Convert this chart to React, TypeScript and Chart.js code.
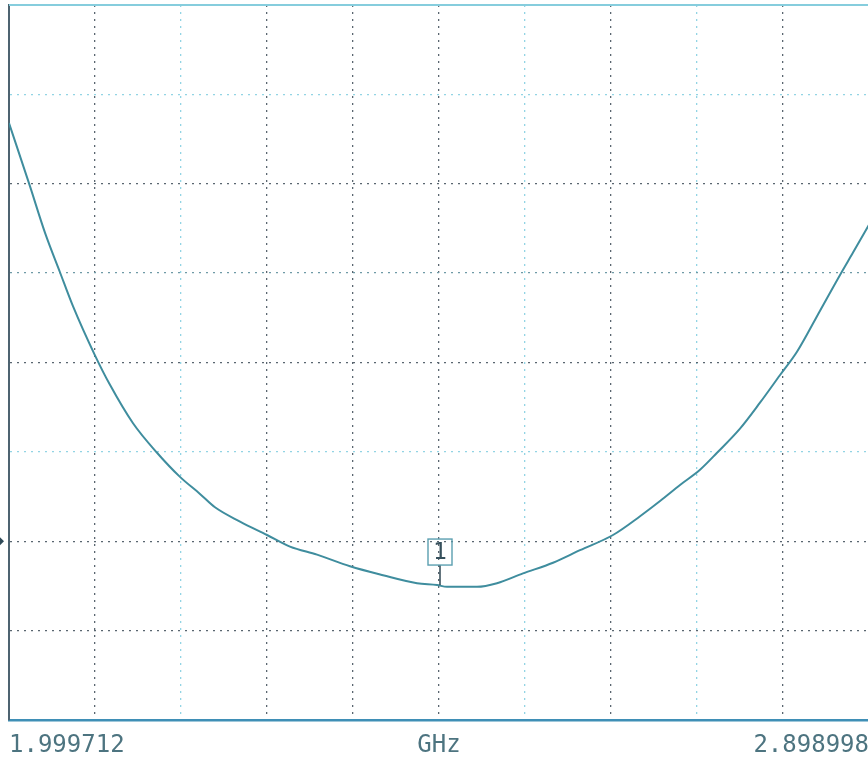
import React, { useEffect, useRef } from "react";
import { Chart, registerables } from "chart.js";

Chart.register(...registerables);

// Sweep limits (GHz)
const START_GHZ = 1.999712;
const STOP_GHZ = 2.898998;
const X_DIVISIONS = 10;
const Y_MIN = 0;
const Y_MAX = 8; // 8 vertical divisions

// Trace (frequency in GHz, level in divisions above the bottom graticule)
const FREQ_GHZ = [
  1.999712, 2.0217, 2.0374, 2.053, 2.0666, 2.0896, 2.1053, 2.1294, 2.1545, 2.1785,
  2.1994, 2.2151, 2.2413, 2.2695, 2.2935, 2.3218, 2.3563, 2.3908, 2.4264, 2.4473,
  2.4577, 2.4891, 2.51, 2.5372, 2.5686, 2.5968, 2.6313, 2.6596, 2.6805, 2.7014,
  2.7223, 2.7401, 2.7641, 2.785, 2.806, 2.8237, 2.8478, 2.8687, 2.8823, 2.898998,
];
const TRACE = [
  6.68, 5.97, 5.45, 5.01, 4.63, 4.08, 3.75, 3.32, 2.99, 2.72,
  2.53, 2.38, 2.22, 2.07, 1.94, 1.85, 1.72, 1.62, 1.53, 1.51,
  1.49, 1.49, 1.53, 1.64, 1.76, 1.9, 2.07, 2.28, 2.45, 2.63,
  2.8, 2.99, 3.26, 3.55, 3.86, 4.12, 4.58, 4.98, 5.23, 5.54,
];

// Axis annotation labels: start, unit, stop
const X_TICK_LABELS = ["1.999712", "GHz", "2.898998"];

// Marker 1
const MARKER_LABEL = "1";
const MARKER_FREQ = 2.4504;
const MARKER_VALUE = 1.51;

// Reference level position (divisions)
const REF_LEVEL = 2;

const DARK = "#5a6670";
const CYAN = "#92d4e4";
const X_GRID_COLORS = [DARK, DARK, CYAN, DARK, DARK, DARK, CYAN, DARK, CYAN, DARK, CYAN];
const Y_GRID_COLORS = [DARK, DARK, DARK, CYAN, DARK, "#6f9aa6", DARK, CYAN, CYAN];

const overlayPlugin = {
  id: "vnaOverlay",
  afterDatasetsDraw(chart: any) {
    const { ctx, chartArea, scales } = chart;
    const xs = scales.x;
    const ys = scales.y;
    ctx.save();
    // top frame line
    ctx.strokeStyle = "#86cddd";
    ctx.lineWidth = 2;
    ctx.beginPath();
    ctx.moveTo(chartArea.left, chartArea.top);
    ctx.lineTo(chartArea.right, chartArea.top);
    ctx.stroke();

    // reference level pointer on the left
    const ry = ys.getPixelForValue(REF_LEVEL);
    ctx.fillStyle = "#2f4a58";
    ctx.beginPath();
    ctx.moveTo(0, ry - 4);
    ctx.lineTo(4, ry);
    ctx.lineTo(0, ry + 4);
    ctx.closePath();
    ctx.fill();

    // marker 1
    const mx = xs.getPixelForValue(MARKER_FREQ);
    const my = ys.getPixelForValue(MARKER_VALUE);
    const boxW = 24;
    const boxH = 26;
    const boxBottom = my - 20;
    ctx.strokeStyle = "#2f4752";
    ctx.lineWidth = 1.5;
    ctx.beginPath();
    ctx.moveTo(mx, my);
    ctx.lineTo(mx, boxBottom);
    ctx.stroke();
    ctx.strokeStyle = "#5a9fb0";
    ctx.lineWidth = 1.4;
    ctx.strokeRect(mx - boxW / 2, boxBottom - boxH, boxW, boxH);
    ctx.fillStyle = "#36505c";
    ctx.font = "23px 'DejaVu Sans Mono'";
    ctx.textAlign = "center";
    ctx.textBaseline = "middle";
    ctx.fillText(MARKER_LABEL, mx, boxBottom - boxH / 2 + 1);
    ctx.restore();
  },
};

export default function App() {
  const ref = useRef<HTMLCanvasElement | null>(null);

  useEffect(() => {
    if (!ref.current) return;
    const points = FREQ_GHZ.map((f, i) => ({ x: f, y: TRACE[i] }));
    const chart = new Chart(ref.current, {
      type: "line",
      data: {
        datasets: [
          {
            label: "S11",
            data: points,
            borderColor: "#3f8d9e",
            borderWidth: 2,
            pointRadius: 0,
            cubicInterpolationMode: "monotone",
            fill: false,
          },
        ],
      },
      options: {
        animation: false,
        responsive: false,
        maintainAspectRatio: false,
        layout: { padding: { left: 9, right: 11, top: 5, bottom: 0 } },
        plugins: { legend: { display: false }, tooltip: { enabled: false } },
        scales: {
          x: {
            type: "linear",
            min: START_GHZ,
            max: STOP_GHZ,
            afterBuildTicks: (scale: any) => {
              const step = (STOP_GHZ - START_GHZ) / X_DIVISIONS;
              scale.ticks = Array.from({ length: X_DIVISIONS + 1 }, (_, i) => ({
                value: START_GHZ + i * step,
              }));
            },
            grid: {
              color: (c: any) => X_GRID_COLORS[c.index] || DARK,
              lineWidth: 1.3,
              drawTicks: true,
              tickLength: 9,
              tickColor: "rgba(0,0,0,0)",
            },
            border: { display: true, color: "#3f8fb6", width: 2.5, dash: [2, 5] },
            ticks: {
              autoSkip: false,
              maxRotation: 0,
              align: "inner",
              padding: 5,
              color: "#4d7480",
              font: { family: "'DejaVu Sans Mono'", size: 24, lineHeight: 1 },
              callback: (_v: any, i: number) =>
                i === 0
                  ? X_TICK_LABELS[0]
                  : i === X_DIVISIONS / 2
                  ? X_TICK_LABELS[1]
                  : i === X_DIVISIONS
                  ? X_TICK_LABELS[2]
                  : "",
            },
          },
          y: {
            type: "linear",
            min: Y_MIN,
            max: Y_MAX,
            ticks: { display: false, stepSize: 1 },
            grid: {
              color: (c: any) => Y_GRID_COLORS[c.index] || DARK,
              lineWidth: 1.3,
              drawTicks: false,
            },
            border: { display: true, color: "#4d6370", width: 2, dash: [2, 5] },
          },
        },
      },
      plugins: [overlayPlugin],
    });
    return () => chart.destroy();
  }, []);

  return (
    <div style={{ position: "fixed", left: 0, top: 0, width: 880, height: 763, background: "#fff" }}>
      <canvas ref={ref} width={880} height={763} style={{ display: "block", width: 880, height: 763 }} />
    </div>
  );
}
